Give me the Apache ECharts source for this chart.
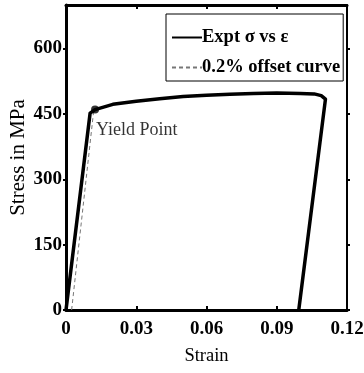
<!DOCTYPE html>
<html>
<head>
<meta charset="utf-8">
<script src="https://cdn.jsdelivr.net/npm/echarts@6/dist/echarts.min.js"></script>
<style>
  html, body { margin: 0; padding: 0; background: #fff; }
  #chart { width: 364px; height: 373px; }
</style>
</head>
<body>
<div id="chart"></div>
<script>
// Experimental stress-strain curve (strain, MPa)
const exptStrain = [0, 0.0103, 0.0124, 0.02, 0.03, 0.04, 0.05, 0.06, 0.07, 0.08, 0.09, 0.1, 0.106, 0.109, 0.1108, 0.0994];
const exptStress = [0, 452, 460, 472, 479, 485, 490, 493, 495, 497, 498, 497, 496, 492, 484, 0];

// 0.2% offset line
const offsetStrain = [0.0024, 0.0118];
const offsetStress = [0, 456];

// Yield point
const yieldStrain = [0.0124];
const yieldStress = [460];

const yTicks = [0, 150, 300, 450, 600];

const serif = '"Liberation Serif", "Times New Roman", serif';
const pair = (xs, ys) => xs.map((x, i) => [x, ys[i]]);

const chart = echarts.init(document.getElementById('chart'));
chart.setOption({
  animation: false,
  backgroundColor: '#fff',
  grid: { left: 66, right: 17, top: 5, bottom: 63, containLabel: false, outerBoundsMode: 'none' },
  legend: {
    data: ['Expt σ vs ε', '0.2% offset curve'],
    orient: 'vertical',
    left: 166, top: 14,
    padding: [14, 3, 4, 5],
    itemGap: 11,
    itemWidth: 30, itemHeight: 19,
    itemStyle: { opacity: 0 },
    borderColor: '#000', borderWidth: 1,
    backgroundColor: '#fff',
    textStyle: { fontFamily: serif, fontWeight: 'bold', fontSize: 18.5, color: '#000', padding: [0, 0, 0, -5] }
  },
  xAxis: [{
    type: 'value', min: 0, max: 0.12, interval: 0.03,
    position: 'bottom',
    name: 'Strain', nameLocation: 'middle', nameGap: 37, nameMoveOverlap: false,
    nameTextStyle: { fontFamily: serif, fontSize: 18.5, color: '#000' },
    axisLine: { lineStyle: { color: '#000', width: 3 } },
    axisTick: { inside: true, length: 4, lineStyle: { color: '#000', width: 2 } },
    axisLabel: { fontFamily: serif, fontWeight: 'bold', fontSize: 19, color: '#000', margin: 10,
      formatter: v => v === 0 ? '0' : String(Number(v.toFixed(2))) },
    splitLine: { show: false }
  }, {
    type: 'value', min: 0, max: 0.12, interval: 0.03,
    position: 'top',
    axisLine: { onZero: false, lineStyle: { color: '#000', width: 3 } },
    axisTick: { inside: true, length: 4, lineStyle: { color: '#000', width: 2 } },
    axisLabel: { show: false },
    splitLine: { show: false }
  }],
  yAxis: [{
    type: 'value', min: 0, max: 700, interval: 150,
    position: 'left',
    name: 'Stress in MPa', nameLocation: 'middle', nameGap: 37, nameMoveOverlap: false,
    nameTextStyle: { fontFamily: serif, fontSize: 21, color: '#000' },
    axisLine: { lineStyle: { color: '#000', width: 3 } },
    axisTick: { length: 3, lineStyle: { color: '#000', width: 2 }, customValues: yTicks },
    axisLabel: { fontFamily: serif, fontWeight: 'bold', fontSize: 19, color: '#000', margin: 4, customValues: yTicks },
    splitLine: { show: false }
  }, {
    type: 'value', min: 0, max: 700, interval: 150,
    position: 'right',
    axisLine: { onZero: false, lineStyle: { color: '#000', width: 2 } },
    axisTick: { length: 3, lineStyle: { color: '#000', width: 2 }, customValues: yTicks },
    axisLabel: { show: false },
    splitLine: { show: false }
  }],
  series: [{
    name: 'Expt σ vs ε',
    type: 'line',
    data: pair(exptStrain, exptStress),
    symbol: 'none',
    lineStyle: { color: '#000', width: 3.5, join: 'round' },
    itemStyle: { color: '#000' },
    z: 3
  }, {
    name: '0.2% offset curve',
    type: 'line',
    data: pair(offsetStrain, offsetStress),
    symbol: 'none',
    lineStyle: { color: '#777', width: 1, type: [4, 3] },
    itemStyle: { color: '#777' },
    z: 2
  }, {
    name: 'Yield Point',
    type: 'scatter',
    data: pair(yieldStrain, yieldStress),
    symbol: 'circle', symbolSize: 8,
    itemStyle: { color: '#000' },
    label: {
      show: true, position: 'right', distance: 0, offset: [-3, 21],
      formatter: 'Yield Point',
      fontFamily: serif, fontSize: 18, color: '#000'
    },
    z: 4
  }]
});
</script>
</body>
</html>
